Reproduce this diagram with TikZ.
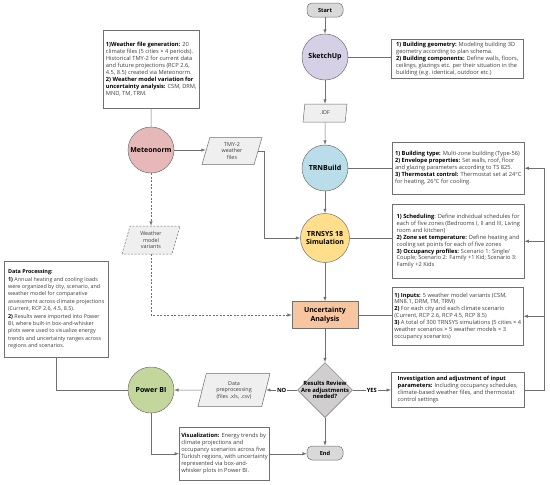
\documentclass[tikz,border=0pt]{standalone}
\usepackage{fontspec}
\setmainfont{Open Sans}
\usetikzlibrary{calc,shapes.geometric,arrows,positioning}
\definecolor{lin}{HTML}{707070}
\definecolor{txt}{HTML}{3F3F3F}
\definecolor{termc}{HTML}{D9D9D9}
\definecolor{skc}{HTML}{D6D0E6}
\definecolor{metc}{HTML}{E6B9B8}
\definecolor{trbc}{HTML}{B9DDE9}
\definecolor{trsc}{HTML}{FFDF8C}
\definecolor{uac}{HTML}{F7C59F}
\definecolor{pbic}{HTML}{C3D69B}
\definecolor{diac}{HTML}{D0CECE}
\definecolor{ioc}{HTML}{EFEFEF}
\newcommand{\tb}[1]{\textbf{\color{black}#1}}

\begin{document}
\begin{tikzpicture}[x=1pt,y=-1pt,
    every node/.style={font=\fontsize{5.7}{6.9}\selectfont, text=txt},
    line/.style={draw=lin, line width=0.5pt},
    circ/.style={circle, draw=lin, line width=0.5pt, minimum size=46pt, inner sep=0pt, align=center, font=\fontsize{7}{8.4}\selectfont\bfseries, text=black},
    term/.style={rounded corners=5pt, draw=lin, fill=termc, line width=0.5pt, minimum width=36pt, minimum height=14pt, inner sep=0pt, font=\fontsize{5.6}{6.6}\selectfont\bfseries, text=black},
    io/.style={trapezium, trapezium left angle=65, trapezium right angle=115, trapezium stretches body, draw=lin, fill=ioc, line width=0.5pt, align=center, inner sep=0pt, font=\fontsize{5.4}{6.5}\selectfont, text=txt},
    desc/.style={draw=lin, fill=white, line width=0.5pt, align=left, inner sep=2pt, anchor=north west},
    yn/.style={fill=white, inner sep=1pt, text=black, font=\fontsize{5.8}{6.6}\selectfont\bfseries},
    dashln/.style={dash pattern=on 2pt off 1.5pt}
  ]
    \useasboundingbox (0,0) rectangle (550,485);

    \node[term] (start) at (325,10) {Start};
    \node[circ, fill=skc] (sk) at (325,57) {SketchUp};
    \node[io, minimum width=44pt, minimum height=18pt] (idf) at (325,113) {.IDF};
    \node[circ, fill=trbc] (trb) at (325,168) {TRNBuild};
    \node[circ, fill=trsc, minimum size=49pt] (trs) at (325,238) {TRNSYS 18\\Simulation};
    \node[draw=lin, fill=uac, line width=0.5pt, minimum width=66pt, minimum height=27pt, align=center, inner sep=0pt, font=\fontsize{7}{8.4}\selectfont\bfseries, text=black] (ua) at (325,315) {Uncertainty\\Analysis};
    \node[diamond, aspect=1, draw=lin, fill=diac, line width=0.5pt, minimum size=55pt, inner sep=-6pt, align=center, font=\fontsize{5.8}{6.8}\selectfont\bfseries, text=black] (rr) at (325,390) {Results Review\\Are adjustments\\needed?};
    \node[term] (stop) at (325,453) {End};

    \node[circ, fill=metc] (met) at (151,150) {Meteonorm};
    \node[io, minimum width=60pt, minimum height=27pt] (tmy) at (232,151) {TMY-2\\weather\\files};
    \node[io, dashln, minimum width=58pt, minimum height=28pt] (wmv) at (151,240) {Weather\\model\\variants};
    \node[circ, fill=pbic] (pbi) at (151,390) {Power BI};
    \node[io, minimum width=72pt, minimum height=33pt] (dpp) at (234,390) {Data\\preprocessing\\(files .xls, .csv)};

    \node[desc, minimum width=96pt, minimum height=78pt] (mettxt) at (103,30) {\tb{1)Weather file generation:} 20\\climate files (5 cities × 4 periods).\\Historical TMY-2 for current data\\and future projections (RCP 2.6,\\4.5, 8.5) created via Meteonorm.\\\tb{2) Weather model variation for}\\\tb{uncertainty analysis:} CSM, DRM,\\MND, TM, TRM.};
    \node[desc, minimum width=132pt, minimum height=39pt] (sktxt) at (391,39) {\tb{1) Building geometry:} Modeling building 3D\\geometry according to plan schema.\\\tb{2) Building components:} Define walls, floors,\\ceilings, glazings etc. per their situation in the\\building (e.g. identical, outdoor etc.)};
    \node[desc, minimum width=132pt, minimum height=52pt] (trbtxt) at (392,142) {\tb{1) Building type:} Multi-zone building (Type-56)\\\tb{2) Envelope properties:} Set walls, roof, floor\\and glazing parameters according to TS 825.\\\tb{3) Thermostat control:} Thermostat set at 24°C\\for heating, 26°C for cooling.};
    \node[desc, minimum width=132pt, minimum height=74pt] (trstxt) at (392,204) {\tb{1) Scheduling}: Define individual schedules for\\each of five zones (Bedrooms I, II and III, Living\\room and kitchen)\\\tb{2) Zone set temperature:} Define heating and\\cooling set points for each of five zones\\\tb{3) Occupancy profiles:} Scenario 1: Single/\\Couple; Scenario 2: Family +1 Kid; Scenario 3:\\Family +2 Kids};
    \node[desc, minimum width=131pt, minimum height=58pt] (uatxt) at (392,287) {\tb{1) Inputs:} 5 weather model variants (CSM,\\MN8.1, DRM, TM, TRM)\\\tb{2)} For each city and each climate scenario\\(Current, RCP 2.6, RCP 4.5, RCP 8.5)\\\tb{3)} A total of 300 TRNSYS simulations (5 cities × 4\\weather scenarios × 5 weather models × 3\\occupancy scenarios)};
    \node[desc, minimum width=133pt, minimum height=35pt] (inv) at (391,372) {\tb{Investigation and adjustment of input}\\\tb{parameters:} Including occupancy schedules,\\climate-based weather files, and thermostat\\control settings};
    \node[desc, minimum width=104pt, minimum height=96pt, font=\fontsize{5.4}{7.4}\selectfont] (dptxt) at (4,261) {\tb{Data Processing:}\\\tb{1)} Annual heating and cooling loads\\were organized by city, scenario, and\\weather model for comparative\\assessment across climate projections\\(Current, RCP 2.6, 4.5, 8.5).\\\tb{2)} Results were imported into Power\\BI, where built-in box-and-whisker\\plots were used to visualize energy\\trends and uncertainty ranges across\\regions and scenarios.};
    \node[desc, minimum width=90pt, minimum height=53pt] (vis) at (179,427) {\tb{Visualization:} Energy trends by\\climate projections and\\occupancy scenarios across five\\Turkish regions, with uncertainty\\represented via box-and-\\whisker plots in Power BI.};

    \draw[line,-latex] (start) -- (sk);
    \draw[line,-latex] (sk) -- (idf);
    \draw[line,-latex] (idf) -- (trb);
    \draw[line,-latex] (trb) -- (trs);
    \draw[line,-latex] (trs) -- (ua);
    \draw[line,-latex] (ua) -- (rr);
    \draw[line,-latex] (rr) -- (stop);
    \draw[line] (sk.east) -- (sk.east -| sktxt.west);
    \draw[line] (trb.east) -- (trb.east -| trbtxt.west);
    \draw[line] (trs.east) -- (trs.east -| trstxt.west);
    \draw[line] (ua.east) -- (ua.east -| uatxt.west);
    \draw[line,-latex] (rr.east) -- node[yn]{YES} (rr.east -| inv.west);
    \draw[line] (inv.east) -- ++(20,0) coordinate (fb) -- (fb |- trbtxt.east);
    \draw[line,-latex] (fb |- trbtxt.east) -- (trbtxt.east);
    \draw[line,-latex] (fb |- trstxt.east) -- (trstxt.east);
    \draw[line,-latex] (fb |- uatxt.east) -- (uatxt.east);

    \draw[line] (mettxt.south) -- (met.north);
    \draw[line,-latex] (met.east) -- (met.east -| tmy.west);
    \draw[line,-latex] (tmy.east) -- ++(6,0) |- (trs.west);
    \draw[line,dashln,-latex] (met) -- (wmv);
    \draw[line,dashln,-latex] (wmv.south) |- (ua.west);
    \draw[line,-latex] (rr.west) -- node[yn]{NO} (rr.west -| dpp.east);
    \draw[line,-latex] (dpp) -- (pbi);
    \draw[line] (dptxt.south) |- (pbi.west);
    \draw[line,-latex] (pbi.south) |- (vis.west);
    \draw[line,-latex] (vis.east) -- (vis.east -| stop.west);
  \end{tikzpicture}
\end{document}
